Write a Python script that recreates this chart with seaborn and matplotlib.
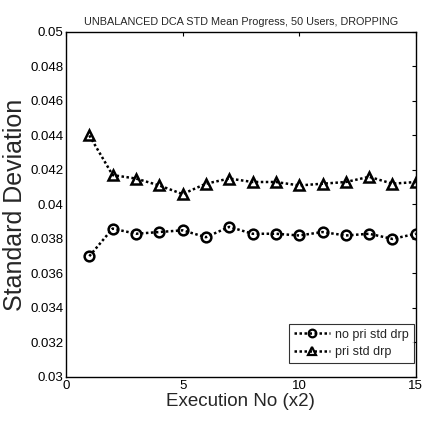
import numpy as np
import pandas as pd
import matplotlib
matplotlib.use("Agg")
import matplotlib.pyplot as plt
import seaborn as sns

execution = list(range(1, 16))
no_pri_std = [0.0370, 0.0386, 0.0383, 0.0384, 0.0385, 0.0381, 0.0387, 0.0383,
              0.0383, 0.0382, 0.0384, 0.0382, 0.0383, 0.0380, 0.0383]
pri_std = [0.0440, 0.0417, 0.0415, 0.0411, 0.0406, 0.0412, 0.0415, 0.0413,
           0.0413, 0.0411, 0.0412, 0.0413, 0.0416, 0.0412, 0.0413]
series_names = ["no pri std drp", "pri std drp"]
x_tick_labels = ["0", "5", "10", "15"]
y_tick_labels = ["0.03", "0.032", "0.034", "0.036", "0.038", "0.04",
                 "0.042", "0.044", "0.046", "0.048", "0.05"]

df = pd.DataFrame({
    "Execution": execution * 2,
    "Std": no_pri_std + pri_std,
    "Series": [series_names[0]] * len(execution) + [series_names[1]] * len(execution),
})

sns.set_theme(style="white")
plt.rcParams["font.family"] = ["Liberation Sans", "DejaVu Sans"]

fig = plt.figure(figsize=(4.23, 4.25), dpi=100)
ax = fig.add_axes([0.156, 0.113, 0.827, 0.812])

sns.lineplot(data=df, x="Execution", y="Std", hue="Series", style="Series",
             palette=["black", "black"], markers=["o", "^"], dashes=[(1, 1), (1, 1)],
             linewidth=1.8, markersize=7, markerfacecolor="none",
             markeredgecolor="black", markeredgewidth=1.8, ax=ax, legend=True)

ax.set_xlim(0, 15)
ax.set_ylim(0.03, 0.05)
ax.set_xticks([0, 5, 10, 15])
ax.set_yticks(np.arange(0.03, 0.0501, 0.002))
ax.set_xticklabels(x_tick_labels)
ax.set_yticklabels(y_tick_labels)
ax.tick_params(direction="in", length=3, width=0.8, colors="black",
               top=True, right=True, pad=2, labelsize=9.5)
for s in ax.spines.values():
    s.set_color("black")
    s.set_linewidth(1.0)

ax.set_title("UNBALANCED DCA STD Mean Progress, 50 Users, DROPPING",
             fontsize=7.8, pad=5)
ax.set_xlabel("Execution No (x2)", fontsize=13.5, labelpad=1)
ax.set_ylabel("Standard Deviation", fontsize=18, labelpad=2)

leg = ax.legend(loc="lower right", fontsize=9, frameon=True, fancybox=False,
                edgecolor="black", handlelength=2.9, borderpad=0.4,
                labelspacing=0.45, handletextpad=0.4, borderaxespad=0,
                bbox_to_anchor=(0.994, 0.04))
leg.get_frame().set_linewidth(0.8)
for h in leg.legend_handles:
    h.set_markersize(5.5)
    h.set_markeredgewidth(1.6)

fig.savefig("out.png", dpi=100)
